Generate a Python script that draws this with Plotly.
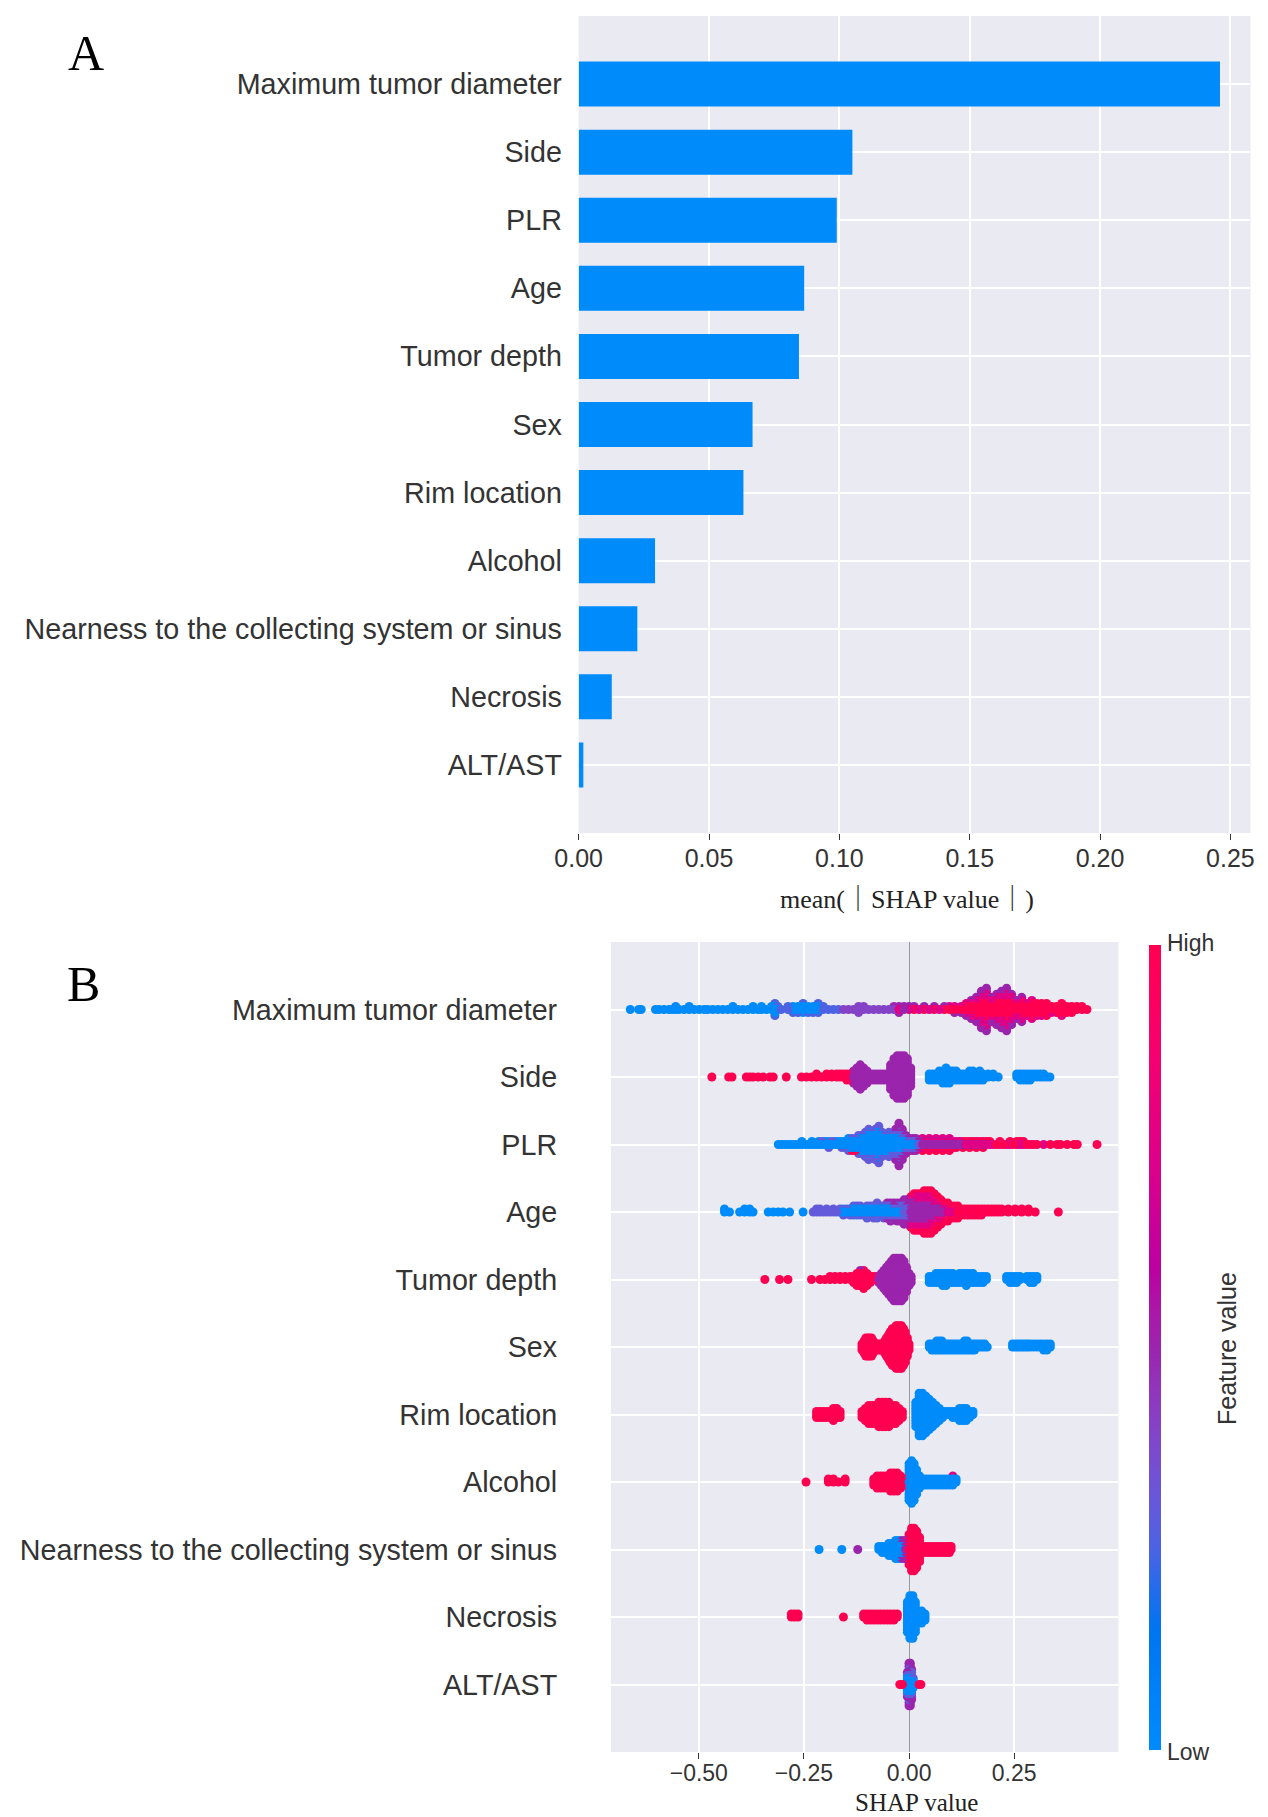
import numpy as np
import plotly.graph_objects as go

W, H = 1268, 1817

# ---- panel A: mean(|SHAP value|) per feature (top to bottom)
features = ["Maximum tumor diameter", "Side", "PLR", "Age", "Tumor depth", "Sex",
            "Rim location", "Alcohol", "Nearness to the collecting system or sinus",
            "Necrosis", "ALT/AST"]
mean_abs_shap = [0.246, 0.105, 0.099, 0.0865, 0.0845, 0.0667, 0.0632, 0.0293, 0.0225, 0.0127, 0.0018]
bar_ticks = [0.0, 0.05, 0.10, 0.15, 0.20, 0.25]
bar_tick_labels = ["0.00", "0.05", "0.10", "0.15", "0.20", "0.25"]

# Maximum tumor diameter
mtd_low = [(-0.663, 1), (-0.643, 1), (-0.637, 1), (-0.603, 1), (-0.595, 1), (-0.583, 1), (-0.571, 1),
           (-0.563, 1), (-0.555, 2), (-0.547, 1), (-0.535, 1), (-0.523, 2), (-0.511, 1), (-0.499, 1),
           (-0.487, 1), (-0.479, 1), (-0.467, 1), (-0.455, 1), (-0.443, 1), (-0.431, 1), (-0.419, 2),
           (-0.407, 1), (-0.395, 1), (-0.383, 1), (-0.371, 2), (-0.359, 1), (-0.351, 2), (-0.339, 1),
           (-0.327, 2), (-0.319, 3), (-0.312, 1), (-0.276, 2), (-0.264, 2), (-0.252, 3), (-0.240, 2),
           (-0.228, 2), (-0.216, 2)]
mtd_lowmid = [(-0.319, 2), (-0.312, 1), (-0.304, 1), (-0.288, 2), (-0.276, 1), (-0.264, 1), (-0.252, 1),
              (-0.240, 1), (-0.228, 1), (-0.216, 2), (-0.204, 2), (-0.192, 1), (-0.180, 1), (-0.168, 1)]
mtd_violet = [(-0.156, 1), (-0.144, 1), (-0.132, 1), (-0.120, 3), (-0.108, 2), (-0.096, 1), (-0.084, 1),
              (-0.072, 1), (-0.060, 1), (-0.048, 1), (-0.036, 1)]
mtd_mid = [(-0.036, 1), (-0.024, 2), (-0.012, 2), (0.000, 1), (0.012, 1), (0.036, 1), (0.060, 1),
           (0.084, 1), (0.108, 1), (0.124, 1), (0.136, 1), (0.148, 2), (0.160, 3), (0.172, 4), (0.184, 4),
           (0.196, 3), (0.208, 3), (0.220, 4), (0.232, 4), (0.244, 3), (0.256, 2), (0.268, 2)]
mtd_midhigh = [(-0.024, 1), (0.000, 1), (0.024, 1), (0.048, 1), (0.072, 1), (0.096, 1), (0.108, 1),
               (0.124, 1), (0.136, 2), (0.148, 3), (0.160, 3), (0.172, 5), (0.184, 6), (0.196, 3),
               (0.208, 4), (0.220, 5), (0.232, 6), (0.244, 4), (0.256, 3), (0.268, 3), (0.280, 2),
               (0.292, 2), (0.304, 1), (0.315, 1), (0.339, 1), (0.363, 1)]
mtd_high = [(0.012, 1), (0.036, 1), (0.060, 1), (0.084, 1), (0.096, 1), (0.108, 1), (0.124, 1), (0.136, 2),
            (0.148, 2), (0.160, 3), (0.172, 4), (0.184, 5), (0.196, 3), (0.208, 4), (0.220, 4), (0.232, 5),
            (0.244, 4), (0.256, 2), (0.268, 4), (0.280, 3), (0.292, 5), (0.304, 4), (0.315, 4), (0.327, 5),
            (0.339, 2), (0.351, 3), (0.363, 4), (0.375, 3), (0.387, 3), (0.399, 2), (0.411, 2), (0.423, 1)]

# Side
side_high = [(-0.469, 1), (-0.429, 1), (-0.421, 1), (-0.387, 1), (-0.379, 1), (-0.371, 1), (-0.359, 1),
             (-0.347, 1), (-0.331, 1), (-0.323, 1), (-0.292, 1), (-0.256, 1), (-0.244, 1), (-0.232, 1),
             (-0.220, 2), (-0.208, 1), (-0.196, 2), (-0.184, 2), (-0.172, 2), (-0.164, 2), (-0.156, 2),
             (-0.148, 3), (-0.140, 3)]
side_mid = [(-0.132, 5), (-0.124, 7), (-0.116, 9), (-0.108, 7), (-0.100, 5), (-0.092, 3), (-0.084, 3),
            (-0.076, 3), (-0.068, 3), (-0.060, 3), (-0.052, 3), (-0.044, 9), (-0.036, 13), (-0.028, 15),
            (-0.020, 15), (-0.012, 15), (-0.004, 13), (0.004, 7)]
side_low = [(0.048, 3), (0.056, 3), (0.064, 3), (0.072, 4), (0.080, 5), (0.088, 6), (0.096, 5), (0.104, 4),
            (0.112, 4), (0.120, 3), (0.128, 3), (0.136, 3), (0.144, 4), (0.152, 4), (0.160, 3), (0.168, 4),
            (0.176, 3), (0.188, 2), (0.200, 2), (0.212, 1), (0.256, 2), (0.264, 3), (0.272, 3), (0.280, 3),
            (0.288, 3), (0.296, 2), (0.304, 2), (0.312, 2), (0.320, 2), (0.328, 1), (0.335, 1)]

# PLR
plr_low = [(-0.311, 1), (-0.303, 1), (-0.295, 1), (-0.287, 1), (-0.279, 1), (-0.271, 1), (-0.263, 1),
           (-0.255, 2), (-0.247, 1), (-0.239, 1), (-0.231, 2), (-0.223, 1), (-0.215, 2), (-0.207, 1),
           (-0.199, 2), (-0.191, 2), (-0.183, 1), (-0.175, 2), (-0.167, 2), (-0.160, 2), (-0.152, 2),
           (-0.144, 4), (-0.136, 3), (-0.128, 3), (-0.120, 5), (-0.112, 5), (-0.104, 6), (-0.096, 8),
           (-0.088, 6), (-0.080, 8), (-0.072, 9), (-0.064, 6), (-0.056, 5), (-0.048, 6), (-0.040, 4),
           (-0.032, 4), (-0.024, 5), (-0.016, 3), (-0.008, 2), (0.000, 1), (0.008, 1), (0.016, 1)]
plr_lowmid = [(-0.207, 1), (-0.191, 1), (-0.183, 1), (-0.160, 1), (-0.152, 1), (-0.144, 1), (-0.136, 1),
              (-0.128, 1), (-0.120, 2), (-0.112, 2), (-0.104, 3), (-0.096, 3), (-0.088, 3), (-0.080, 3),
              (-0.072, 4), (-0.064, 3), (-0.056, 2), (-0.048, 3), (-0.040, 3), (-0.032, 3), (-0.024, 4),
              (-0.016, 3), (-0.008, 2), (0.000, 2), (0.008, 2), (0.016, 2), (0.024, 1)]
plr_mid = [(-0.032, 4), (-0.024, 6), (-0.016, 5), (-0.008, 3), (0.000, 2), (0.008, 2), (0.016, 2),
           (0.024, 2), (0.032, 2), (0.040, 1), (0.048, 2), (0.056, 1), (0.064, 2), (0.072, 1), (0.080, 2),
           (0.088, 1), (0.096, 2), (0.104, 1), (0.112, 1), (0.120, 1), (0.128, 1), (0.144, 1), (0.160, 1),
           (0.176, 1)]
plr_midhigh = [(0.032, 2), (0.040, 1), (0.048, 2), (0.056, 1), (0.064, 2), (0.072, 1), (0.080, 2),
               (0.088, 1), (0.096, 2), (0.104, 1), (0.112, 1), (0.120, 1), (0.128, 1), (0.136, 1),
               (0.144, 1), (0.152, 1), (0.160, 1), (0.168, 1), (0.176, 1), (0.184, 1), (0.192, 1),
               (0.200, 1), (0.216, 1), (0.232, 1), (0.240, 1), (0.256, 1), (0.264, 1), (0.272, 1),
               (0.296, 1), (0.320, 1)]
plr_high = [(-0.136, 1), (-0.128, 1), (0.032, 1), (0.040, 1), (0.048, 1), (0.056, 1), (0.064, 1),
            (0.072, 1), (0.080, 1), (0.088, 1), (0.096, 1), (0.104, 1), (0.112, 1), (0.128, 1), (0.136, 1),
            (0.144, 1), (0.152, 1), (0.160, 1), (0.168, 1), (0.176, 1), (0.184, 1), (0.192, 1), (0.208, 1),
            (0.216, 1), (0.224, 1), (0.240, 1), (0.248, 1), (0.256, 1), (0.264, 1), (0.272, 1), (0.280, 1),
            (0.288, 1), (0.304, 1), (0.336, 1), (0.352, 1), (0.360, 1), (0.376, 1), (0.392, 1), (0.400, 1),
            (0.447, 1)]

# Age
age_low = [(-0.439, 2), (-0.427, 1), (-0.403, 1), (-0.391, 2), (-0.379, 2), (-0.371, 1), (-0.335, 1),
           (-0.323, 1), (-0.311, 1), (-0.300, 1), (-0.284, 1), (-0.252, 1), (-0.164, 1), (-0.156, 2),
           (-0.148, 1), (-0.140, 2), (-0.132, 2), (-0.124, 3), (-0.116, 2), (-0.108, 2), (-0.100, 3),
           (-0.092, 2), (-0.084, 2), (-0.076, 3), (-0.068, 2), (-0.060, 2), (-0.052, 2), (-0.044, 2),
           (-0.036, 1), (-0.028, 1), (-0.020, 1)]
age_lowmid = [(-0.228, 1), (-0.220, 2), (-0.212, 2), (-0.204, 1), (-0.196, 2), (-0.188, 1), (-0.180, 2),
              (-0.172, 1), (-0.164, 1), (-0.156, 1), (-0.148, 1), (-0.140, 1), (-0.132, 2), (-0.124, 1),
              (-0.116, 2), (-0.108, 1), (-0.100, 2), (-0.092, 2), (-0.084, 3), (-0.076, 3), (-0.068, 2),
              (-0.060, 3), (-0.052, 2), (-0.044, 3), (-0.036, 2), (-0.028, 3), (-0.020, 3), (-0.012, 4),
              (-0.004, 3)]
age_mid = [(-0.052, 2), (-0.044, 2), (-0.036, 3), (-0.028, 3), (-0.020, 3), (-0.012, 5), (-0.004, 6),
           (0.004, 6), (0.012, 6), (0.020, 5), (0.028, 5), (0.036, 5), (0.044, 5), (0.052, 4), (0.060, 3),
           (0.068, 2), (0.076, 2), (0.084, 1)]
age_midhigh = [(0.004, 3), (0.012, 4), (0.020, 5), (0.028, 5), (0.036, 6), (0.044, 5), (0.052, 6),
               (0.060, 5), (0.068, 4), (0.076, 3), (0.084, 2), (0.092, 2), (0.100, 1), (0.108, 1),
               (0.132, 1), (0.156, 1), (0.180, 1)]
age_high = [(0.004, 2), (0.012, 3), (0.020, 3), (0.028, 3), (0.036, 4), (0.044, 5), (0.052, 5), (0.060, 5),
            (0.068, 5), (0.076, 4), (0.084, 4), (0.092, 5), (0.100, 4), (0.108, 4), (0.116, 5), (0.124, 3),
            (0.132, 2), (0.140, 3), (0.148, 3), (0.156, 2), (0.164, 3), (0.172, 3), (0.180, 1), (0.188, 2),
            (0.196, 2), (0.204, 2), (0.212, 2), (0.220, 2), (0.236, 2), (0.252, 2), (0.268, 2), (0.284, 2),
            (0.300, 1), (0.355, 1)]

# Tumor depth
td_high = [(-0.343, 1), (-0.308, 1), (-0.288, 1), (-0.232, 1), (-0.212, 1), (-0.200, 1), (-0.188, 2),
           (-0.176, 2), (-0.164, 2), (-0.152, 2), (-0.140, 2), (-0.132, 3), (-0.124, 5), (-0.116, 5),
           (-0.108, 7), (-0.100, 5), (-0.092, 3), (-0.084, 2), (-0.076, 2)]
td_mid = [(-0.116, 1), (-0.072, 3), (-0.066, 5), (-0.060, 7), (-0.054, 9), (-0.048, 11), (-0.042, 13),
          (-0.036, 15), (-0.030, 15), (-0.024, 15), (-0.018, 15), (-0.012, 13), (-0.006, 9), (0.000, 5),
          (0.005, 3)]
td_low = [(0.048, 3), (0.056, 3), (0.064, 4), (0.072, 4), (0.080, 5), (0.088, 5), (0.096, 4), (0.104, 4),
          (0.112, 3), (0.120, 4), (0.128, 4), (0.136, 5), (0.144, 4), (0.152, 4), (0.160, 3), (0.168, 3),
          (0.176, 3), (0.184, 2), (0.232, 2), (0.240, 3), (0.248, 3), (0.256, 3), (0.264, 2), (0.280, 2),
          (0.288, 3), (0.296, 3), (0.304, 2)]

# Sex
sex_high = [(-0.112, 3), (-0.107, 5), (-0.103, 7), (-0.098, 7), (-0.094, 7), (-0.089, 7), (-0.085, 5),
            (-0.080, 3), (-0.076, 2), (-0.072, 3), (-0.067, 3), (-0.063, 3), (-0.058, 5), (-0.054, 7),
            (-0.049, 9), (-0.045, 11), (-0.040, 13), (-0.036, 13), (-0.031, 15), (-0.027, 15), (-0.022, 15),
            (-0.018, 15), (-0.013, 13), (-0.009, 11), (-0.004, 7), (0.000, 3)]
sex_low = [(0.048, 2), (0.054, 3), (0.060, 3), (0.066, 4), (0.072, 4), (0.078, 4), (0.084, 3), (0.090, 3),
           (0.096, 3), (0.102, 3), (0.108, 3), (0.114, 3), (0.120, 3), (0.126, 3), (0.132, 4), (0.138, 4),
           (0.144, 3), (0.150, 3), (0.156, 3), (0.162, 2), (0.168, 2), (0.174, 2), (0.180, 2), (0.186, 1),
           (0.246, 2), (0.252, 2), (0.258, 2), (0.264, 2), (0.270, 2), (0.276, 2), (0.282, 2), (0.288, 2),
           (0.296, 2), (0.304, 2), (0.312, 2), (0.320, 3), (0.328, 3), (0.336, 2)]

# Rim location
rim_high = [(-0.220, 3), (-0.212, 3), (-0.204, 3), (-0.196, 3), (-0.188, 3), (-0.180, 5), (-0.172, 4),
            (-0.164, 3), (-0.112, 3), (-0.104, 5), (-0.096, 7), (-0.088, 7), (-0.080, 7), (-0.072, 9),
            (-0.064, 9), (-0.056, 9), (-0.048, 9), (-0.040, 7), (-0.032, 7), (-0.024, 5), (-0.016, 3)]
rim_low = [(0.016, 9), (0.024, 15), (0.032, 15), (0.040, 13), (0.048, 11), (0.056, 9), (0.064, 7),
           (0.072, 5), (0.080, 3), (0.088, 2), (0.096, 2), (0.104, 3), (0.112, 3), (0.120, 5), (0.128, 5),
           (0.136, 5), (0.144, 3), (0.152, 2)]

# Alcohol
alc_high = [(-0.245, 1), (-0.192, 2), (-0.180, 2), (-0.168, 1), (-0.152, 2), (-0.084, 3), (-0.076, 5),
            (-0.068, 5), (-0.060, 5), (-0.052, 5), (-0.044, 7), (-0.036, 7), (-0.028, 7), (-0.020, 5),
            (-0.012, 3)]
alc_low = [(0.000, 13), (0.006, 15), (0.012, 13), (0.018, 9), (0.025, 5), (0.032, 3), (0.040, 3),
           (0.048, 3), (0.056, 3), (0.064, 3), (0.072, 3), (0.080, 3), (0.088, 3), (0.096, 3), (0.104, 3),
           (0.112, 2)]
alc_midhigh = [(0.104, 1)]

# Nearness to the collecting system or sinus
near_low = [(-0.214, 1), (-0.160, 1), (-0.072, 2), (-0.064, 3), (-0.056, 3), (-0.048, 5), (-0.040, 5),
            (-0.032, 7), (-0.024, 7), (-0.016, 3)]
near_mid = [(-0.122, 1), (-0.016, 4), (-0.008, 7)]
near_high = [(0.000, 11), (0.006, 15), (0.012, 15), (0.018, 13), (0.025, 9), (0.032, 3), (0.040, 3),
             (0.048, 3), (0.056, 3), (0.064, 3), (0.072, 3), (0.080, 3), (0.088, 3), (0.096, 3), (0.100, 2)]

# Necrosis
nec_high = [(-0.280, 2), (-0.272, 2), (-0.264, 2), (-0.156, 1), (-0.108, 2), (-0.100, 3), (-0.092, 3),
            (-0.084, 3), (-0.076, 3), (-0.068, 3), (-0.060, 3), (-0.052, 3), (-0.044, 3), (-0.036, 3),
            (-0.028, 2)]
nec_low = [(-0.004, 11), (0.002, 15), (0.009, 15), (0.015, 11), (0.022, 5), (0.030, 5), (0.038, 3)]

# ALT/AST
alt_low = [(-0.004, 5), (0.000, 8), (0.003, 8), (0.006, 5), (0.010, 3)]
alt_lowmid = [(-0.004, 2), (0.000, 3), (0.003, 3), (0.006, 3), (0.010, 1)]
alt_mid = [(-0.004, 2), (0.000, 4), (0.003, 4), (0.006, 3)]
alt_high = [(-0.022, 1), (-0.016, 1), (0.024, 1), (0.028, 1)]

swarm_ticks = [-0.5, -0.25, 0.0, 0.25]
swarm_tick_labels = ["\u22120.50", "\u22120.25", "0.00", "0.25"]

# (feature value, points) groups for each row, top row first; earlier groups sit nearer the row centre
swarm_rows = [
    [(0.0, mtd_low), (0.25, mtd_lowmid), (0.4, mtd_violet), (1.0, mtd_high), (0.75, mtd_midhigh), (0.5, mtd_mid)],
    [(1.0, side_high), (0.5, side_mid), (0.0, side_low)],
    [(0.0, plr_low), (0.3, plr_lowmid), (0.5, plr_mid), (0.75, plr_midhigh), (1.0, plr_high)],
    [(0.0, age_low), (0.3, age_lowmid), (0.5, age_mid), (0.75, age_midhigh), (1.0, age_high)],
    [(1.0, td_high), (0.5, td_mid), (0.0, td_low)],
    [(1.0, sex_high), (0.0, sex_low)],
    [(1.0, rim_high), (0.0, rim_low)],
    [(1.0, alc_high), (0.0, alc_low), (0.75, alc_midhigh)],
    [(0.0, near_low), (0.5, near_mid), (1.0, near_high)],
    [(1.0, nec_high), (0.0, nec_low)],
    [(0.0, alt_low), (0.3, alt_lowmid), (0.5, alt_mid), (1.0, alt_high)],
]


def lch_to_rgb(l, c, h):
    a, b = c * np.cos(h), c * np.sin(h)
    fy = (l + 16) / 116
    fx, fz = fy + a / 500, fy - b / 200

    def finv(t):
        return t ** 3 if t > 6 / 29 else 3 * (6 / 29) ** 2 * (t - 4 / 29)

    x, y, z = 0.95047 * finv(fx), finv(fy), 1.08883 * finv(fz)
    lin = [3.2406 * x - 1.5372 * y - 0.4986 * z,
           -0.9689 * x + 1.8758 * y + 0.0415 * z,
           0.0557 * x - 0.2040 * y + 1.0570 * z]
    out = []
    for v in lin:
        v = 12.92 * v if v <= 0.0031308 else 1.055 * v ** (1 / 2.4) - 0.055
        out.append(int(round(min(max(v, 0), 1) * 255)))
    return "rgb(%d,%d,%d)" % tuple(out)


# shap's red_blue map (interpolated in LCH)
red_blue = []
for t in np.linspace(0, 1, 21):
    l = 54 + (40 - 54) * 2 * t if t <= 0.5 else 40 + (54 - 40) * (2 * t - 1)
    c = 70 + 20 * t
    h = 4.6588 + (0.35470565 + 2 * np.pi - 4.6588) * t
    red_blue.append([float(t), lch_to_rgb(l, c, h)])


def swarm(groups):
    xs, cs, ys = [], [], []
    seen = {}
    for level, pts in groups:
        for x, n in pts:
            for _ in range(n):
                k = seen.get(x, 0)
                seen[x] = k + 1
                xs.append(x)
                cs.append(level)
                ys.append(np.ceil(k / 2) * ((k % 2) * 2 - 1))
    ys = np.array(ys)
    ys = ys * 0.9 * (0.4 / np.max(ys + 1))
    # outer dots first, centre dots drawn on top
    order = np.argsort(-np.abs(ys), kind="stable")
    return np.array(xs)[order], np.array(cs)[order], ys[order]


n = len(features)
pos = [n - 1 - i for i in range(n)]

fig = go.Figure()
fig.add_trace(go.Bar(x=mean_abs_shap, y=pos, orientation="h", width=0.66,
                     marker=dict(color="#008bfb", line=dict(width=0)),
                     xaxis="x", yaxis="y", hoverinfo="skip"))

for i, groups in enumerate(swarm_rows):
    xs, cs, ys = swarm(groups)
    fig.add_trace(go.Scatter(x=xs, y=pos[i] + ys, mode="markers", xaxis="x2", yaxis="y2",
                             marker=dict(size=9, color=cs, coloraxis="coloraxis", line=dict(width=0)),
                             hoverinfo="skip"))

sans = "Liberation Sans, Arial, sans-serif"
serif = "Liberation Serif, Times New Roman, Noto Sans CJK SC, serif"
grey = "#333333"

fig.update_layout(
    width=W, height=H, margin=dict(l=0, r=0, t=0, b=0),
    paper_bgcolor="white", plot_bgcolor="#EAEAF2", showlegend=False,
    xaxis=dict(domain=[559 / W, 1246 / W], range=[0, 0.2577], tickvals=bar_ticks, ticktext=bar_tick_labels,
               ticks="outside", ticklen=6, tickwidth=1, tickcolor=grey, ticklabelstandoff=-3,
               tickfont=dict(family=sans, size=25, color=grey),
               showgrid=True, gridcolor="white", gridwidth=1.8, zeroline=False, showline=False, anchor="y"),
    yaxis=dict(domain=[1 - 825 / H, 1 - 8 / H], range=[-1, n], tickvals=pos, ticktext=features,
               ticks="outside", ticklen=10, tickcolor="rgba(0,0,0,0)",
               tickfont=dict(family=sans, size=28.7, color=grey),
               showgrid=True, gridcolor="white", gridwidth=1.8, zeroline=False, showline=False, anchor="x"),
    xaxis2=dict(domain=[592 / W, 1111 / W], range=[-0.709, 0.498], tickvals=swarm_ticks,
                ticktext=swarm_tick_labels, ticks="outside", ticklen=6, tickwidth=1, tickcolor=grey,
                ticklabelstandoff=-6, tickfont=dict(family=sans, size=23, color=grey),
                showgrid=True, gridcolor="white", gridwidth=1.8,
                zeroline=True, zerolinecolor="#999999", zerolinewidth=1.2, showline=False, anchor="y2"),
    yaxis2=dict(domain=[1 - 1744 / H, 1 - 934 / H], range=[-1, n], tickvals=pos, ticktext=features,
                ticks="outside", ticklen=47, tickcolor="rgba(0,0,0,0)",
                tickfont=dict(family=sans, size=28.7, color=grey),
                showgrid=True, gridcolor="white", gridwidth=1.8, zeroline=False, showline=False, anchor="x2"),
    coloraxis=dict(cmin=0, cmax=1, colorscale=red_blue,
                   colorbar=dict(x=1142 / W, xanchor="left", xpad=0, thickness=12, thicknessmode="pixels",
                                 len=805, lenmode="pixels", y=1 - 1339.5 / H, yanchor="middle", ypad=0,
                                 outlinewidth=0, showticklabels=False, ticks="")),
)

annotations = [
    dict(text="A", x=55 / W, y=1 - 45 / H, font=dict(family=serif, size=50, color="black")),
    dict(text="B", x=53 / W, y=1 - 976 / H, font=dict(family=serif, size=50, color="black")),
    dict(text="mean(\uff5cSHAP value\uff5c)", x=895 / W, y=1 - 891 / H,
         font=dict(family=serif, size=26, color="#222222")),
    dict(text="SHAP value", x=904 / W, y=1 - 1794 / H, font=dict(family=serif, size=25, color="#222222")),
    dict(text="High", x=1159 / W, y=1 - 935 / H, xanchor="left", font=dict(family=sans, size=23, color=grey)),
    dict(text="Low", x=1159 / W, y=1 - 1744 / H, xanchor="left", font=dict(family=sans, size=23, color=grey)),
    dict(text="Feature value", x=1222 / W, y=1 - 1341 / H, textangle=-90,
         font=dict(family=sans, size=25, color=grey)),
]
for a in annotations:
    a.setdefault("xanchor", "center")
    fig.add_annotation(xref="paper", yref="paper", yanchor="middle", showarrow=False, **a)

fig.write_html("out.html")
